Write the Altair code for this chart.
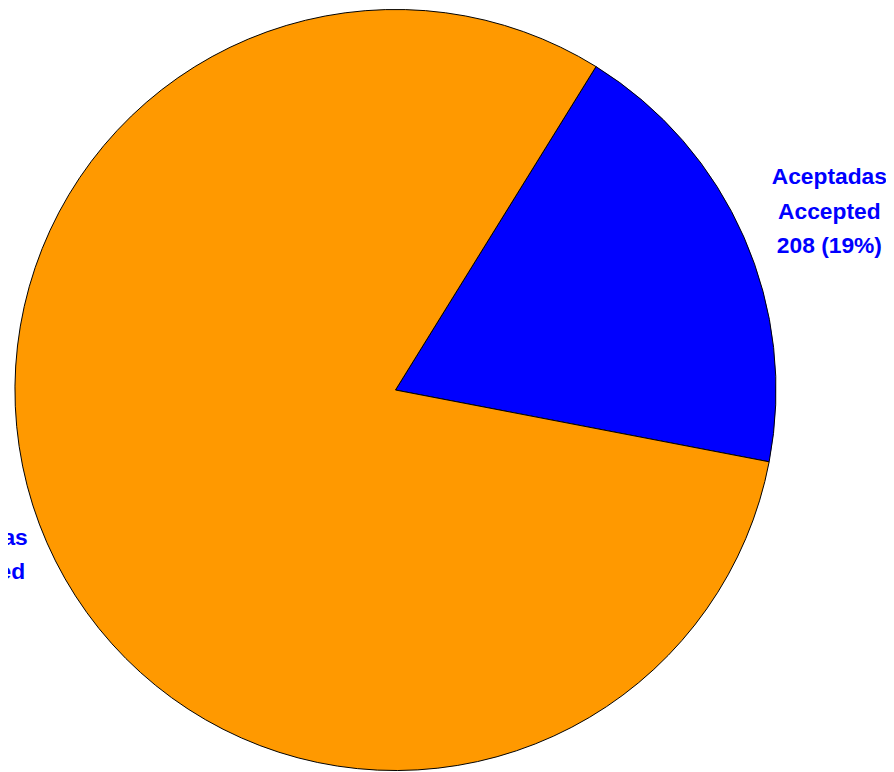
import altair as alt
import pandas as pd

categories = ["Aceptadas", "No aceptadas"]
labels_es = ["Aceptadas", "No aceptadas"]
labels_en = ["Accepted", "Not accepted"]
counts = [208, 876]
percents = ["19%", "81%"]
order = [0, 1]
colors = ["#0000FF", "#FF9900"]

df = pd.DataFrame({
    "cat": categories,
    "es": labels_es,
    "en": labels_en,
    "count": counts,
    "pct": percents,
    "ord": order,
})
df["label"] = df["es"] + "\n" + df["en"] + "\n" + df["count"].astype(str) + " (" + df["pct"] + ")"

start = 0.555
theta_scale = alt.Scale(type="linear", range=[start, start + 2 * 3.141592653589793])

CX, CY = 391, 382

base = alt.Chart(df).encode(
    theta=alt.Theta("count:Q", stack=True, scale=theta_scale),
    order=alt.Order("ord:Q"),
)

pie = base.mark_arc(
    outerRadius=384, stroke="#000000", strokeWidth=1, x=CX, y=CY
).encode(
    color=alt.Color("cat:N", scale=alt.Scale(domain=categories, range=colors), legend=None)
)


def label_layer(cat, dx, dy):
    return base.mark_text(
        x=CX, y=CY, radius=466, dx=dx, dy=dy, lineBreak="\n", font="Liberation Sans",
        fontWeight="bold", fontSize=23, lineHeight=35, color="#0000FF",
        align="center", baseline="middle"
    ).transform_calculate(
        shown=f"datum.cat == '{cat}' ? datum.label : ''"
    ).encode(text="shown:N")


text_right = label_layer("Aceptadas", 11, -28)
text_left = label_layer("No aceptadas", -19, -38)

chart = alt.layer(pie, text_right, text_left).properties(
    width=886, height=764, padding=0, autosize=alt.AutoSizeParams(type="none")
).configure_view(stroke=None)

chart.save("out.html", embed_options={"renderer": "svg", "actions": False})
